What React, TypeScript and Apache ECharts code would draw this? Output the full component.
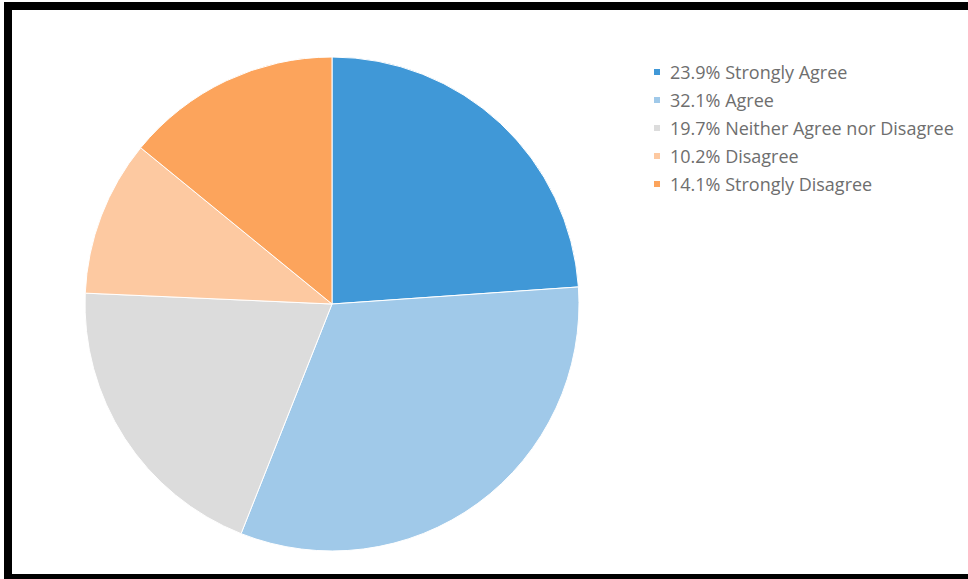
import React, { useEffect, useRef } from "react";
import * as echarts from "echarts";

const categories = ["Strongly Agree", "Agree", "Neither Agree nor Disagree", "Disagree", "Strongly Disagree"];
const values = [23.9, 32.1, 19.7, 10.2, 14.1];
const colors = ["#4098d7", "#a0c9e9", "#dcdcdc", "#fdc9a1", "#fca45c"];

export default function App() {
  const ref = useRef<HTMLDivElement>(null);
  useEffect(() => {
    if (!ref.current) return;
    const chart = echarts.init(ref.current, null, { renderer: "svg" });
    const lookup: Record<string, number> = {};
    categories.forEach((c, i) => (lookup[c] = values[i]));
    chart.setOption({
      animation: false,
      backgroundColor: "#ffffff",
      color: colors,
      legend: {
        orient: "vertical",
        left: 647,
        top: 53,
        itemWidth: 8,
        itemHeight: 8,
        itemGap: 0,
        icon: "rect",
        data: categories,
        formatter: (name: string) => `${lookup[name].toFixed(1)}% ${name}`,
        textStyle: {
          fontFamily: "Open Sans",
          fontSize: 18,
          color: "#6e6e6e",
          lineHeight: 28,
          padding: [0, 0, 0, 4],
        },
      },
      graphic: [
        { type: "rect", shape: { x: 4, y: 2, width: 970, height: 8 }, style: { fill: "#000" } },
        { type: "rect", shape: { x: 4, y: 2, width: 8, height: 580 }, style: { fill: "#000" } },
        { type: "rect", shape: { x: 4, y: 574, width: 970, height: 8 }, style: { fill: "#000" } },
      ],
      series: [
        {
          type: "pie",
          center: [332, 304],
          radius: [0, 247],
          startAngle: 90,
          clockwise: true,
          label: { show: false },
          labelLine: { show: false },
          itemStyle: { borderColor: "#ffffff", borderWidth: 1 },
          emphasis: { disabled: true },
          data: categories.map((c, i) => ({ name: c, value: values[i] })),
        },
      ],
    });
    return () => chart.dispose();
  }, []);
  return (
    <div
      ref={ref}
      style={{ position: "fixed", left: 0, top: 0, width: 968, height: 579 }}
    />
  );
}
